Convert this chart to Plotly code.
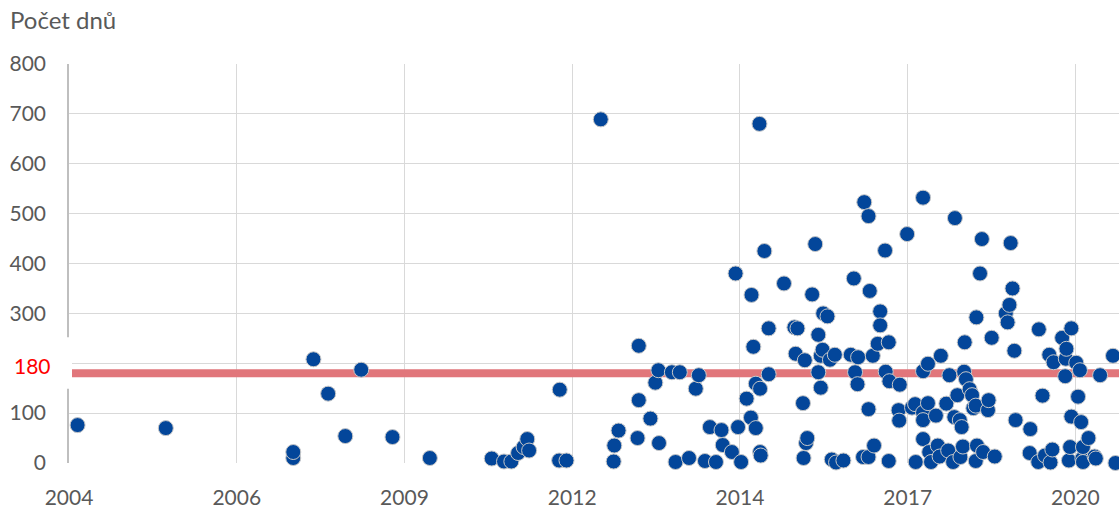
import plotly.graph_objects as go

# Event dates (decimal years) and duration in days
years = [
    2004.14, 2005.58, 2007.66, 2007.66, 2007.99, 2008.23, 2008.51, 2008.77, 2009.28, 2009.89,
    2010.90, 2011.10, 2011.22, 2011.33, 2011.42, 2011.48, 2011.51, 2012.01, 2012.00, 2012.12,
    2012.68, 2012.89, 2012.90, 2012.97, 2013.28, 2013.30, 2013.30, 2013.49, 2013.57, 2013.62,
    2013.63, 2013.84, 2013.90, 2013.97, 2014.12, 2014.23, 2014.28, 2014.38, 2014.46, 2014.56,
    2014.65, 2014.67, 2014.82, 2014.88, 2014.92, 2014.97, 2015.06, 2015.13, 2015.14, 2015.17,
    2015.21, 2015.21, 2015.27, 2015.28, 2015.28, 2015.29, 2015.35, 2015.42, 2015.42, 2015.67,
    2015.84, 2015.89, 2015.86, 2015.98, 2015.99, 2016.01, 2016.03, 2016.05, 2016.13, 2016.18,
    2016.23, 2016.23, 2016.27, 2016.27, 2016.30, 2016.31, 2016.38, 2016.42, 2016.45, 2016.50,
    2016.52, 2016.64, 2016.76, 2016.81, 2016.83, 2016.87, 2016.88, 2016.96, 2016.98, 2017.05,
    2017.05, 2017.05, 2017.07, 2017.12, 2017.14, 2017.20, 2017.24, 2017.24, 2017.32, 2017.33,
    2017.38, 2017.39, 2017.38, 2017.54, 2017.55, 2017.56, 2017.68, 2017.76, 2017.81, 2017.82,
    2017.94, 2017.94, 2017.94, 2017.94, 2017.94, 2018.02, 2018.02, 2018.04, 2018.07, 2018.15,
    2018.18, 2018.21, 2018.23, 2018.32, 2018.35, 2018.37, 2018.43, 2018.45, 2018.46, 2018.50,
    2018.54, 2018.55, 2018.57, 2018.59, 2018.61, 2018.62, 2018.64, 2018.70, 2018.74, 2018.76,
    2018.80, 2018.80, 2018.81, 2018.82, 2018.87, 2018.90, 2018.92, 2019.00, 2019.01, 2019.06,
    2019.11, 2019.29, 2019.32, 2019.35, 2019.37, 2019.40, 2019.43, 2019.45, 2019.68, 2019.69,
    2019.82, 2019.83, 2019.89, 2019.93, 2020.00, 2020.02, 2020.05, 2020.07, 2020.21, 2020.26,
    2020.27, 2020.28, 2020.32, 2020.34, 2020.36, 2020.36, 2020.44, 2020.47, 2020.50, 2020.52,
    2020.54, 2020.55, 2020.55, 2020.64, 2020.74, 2020.76, 2020.83, 2021.04, 2021.08,
]
days = [
    76, 70, 10, 22, 208, 139, 54, 187, 52, 10,
    9, 3, 3, 20, 32, 48, 25, 147, 5, 5,
    689, 3, 35, 65, 50, 235, 126, 89, 161, 186,
    40, 182, 2, 182, 10, 149, 176, 4, 72, 2,
    66, 36, 22, 380, 72, 2, 129, 91, 337, 233,
    159, 70, 680, 149, 22, 15, 425, 178, 270, 360,
    272, 270, 219, 120, 10, 206, 40, 50, 338, 439,
    257, 182, 151, 215, 227, 300, 294, 207, 7, 217,
    1, 5, 217, 370, 182, 158, 212, 12, 523, 495,
    108, 12, 345, 215, 35, 239, 304, 276, 426, 183,
    242, 164, 4, 106, 85, 157, 459, 111, 118, 2,
    532, 184, 101, 86, 48, 199, 120, 22, 2, 95,
    35, 13, 215, 119, 25, 176, 2, 92, 491, 136,
    86, 12, 72, 33, 183, 242, 168, 148, 136, 110,
    115, 4, 292, 35, 380, 449, 22, 106, 126, 251,
    13, 300, 282, 317, 441, 350, 225, 86, 20, 68,
    2, 268, 135, 15, 217, 1, 27, 202, 251, 174,
    209, 229, 5, 32, 270, 93, 201, 133, 186, 82,
    9, 32, 2, 50, 13, 9, 176, 215, 0,
]

threshold = 180
y_tick_values = [0, 100, 200, 300, 400, 500, 600, 700, 800]
y_tick_labels = ["0", "100", "", "300", "400", "500", "600", "700", "800"]
x_tick_labels = ["2004", "2006", "2009", "2012", "2014", "2017", "2020"]

start_year = 2004.0
step_years = 1000 / 365.25
x_tick_values = [start_year + i * step_years for i in range(len(x_tick_labels))]

W, H = 1119, 509
ML, MR, MT, MB = 69, 0, 64, 43
plot_w = W - ML - MR
x_max = start_year + plot_w * 0.016322

grey = "#595959"
font_family = "Lato, 'Open Sans', sans-serif"

fig = go.Figure()

fig.add_trace(go.Scatter(
    x=[start_year, x_max + 1], y=[threshold, threshold],
    mode="lines", line=dict(color="#e1767b", width=8),
    hoverinfo="skip", showlegend=False,
))

fig.add_trace(go.Scatter(
    x=years, y=days, mode="markers",
    marker=dict(size=15, color="#03469a", line=dict(color="#c8c8c8", width=1)),
    cliponaxis=False, showlegend=False,
))

fig.add_shape(
    type="rect", xref="paper", yref="y",
    x0=-ML / plot_w, x1=3 / plot_w, y0=149, y1=252,
    fillcolor="white", line=dict(width=0), layer="above",
)

fig.add_annotation(
    xref="paper", yref="y", x=-16 / plot_w, y=threshold, yshift=8,
    text="180", showarrow=False, xanchor="right", yanchor="middle",
    font=dict(family=font_family, size=21, color="#ff0000"),
)

fig.update_layout(
    width=W, height=H,
    margin=dict(l=ML, r=MR, t=MT, b=MB),
    paper_bgcolor="white", plot_bgcolor="white",
    title=dict(
        text="Počet dnů", x=10 / W, xanchor="left", xref="container",
        y=1 - 21 / H, yanchor="middle", yref="container",
        font=dict(family=font_family, size=24, color=grey),
    ),
    showlegend=False,
)

fig.update_xaxes(
    range=[start_year, x_max], tickmode="array",
    tickvals=x_tick_values, ticktext=x_tick_labels,
    showgrid=True, gridcolor="#d9d9d9", gridwidth=1.4,
    zeroline=False, showline=False,
    ticks="outside", ticklen=16, tickcolor="rgba(0,0,0,0)",
    tickfont=dict(family=font_family, size=21, color=grey),
)
fig.update_yaxes(
    range=[0, 800], tickmode="array",
    tickvals=y_tick_values, ticktext=y_tick_labels,
    showgrid=True, gridcolor="#d9d9d9", gridwidth=1.4,
    zeroline=False, showline=True, linecolor="#bfbfbf", linewidth=1.5,
    ticks="outside", ticklen=17, tickcolor="rgba(0,0,0,0)",
    tickfont=dict(family=font_family, size=21, color=grey),
)

fig.write_html(
    "out.html",
    config={"displayModeBar": False},
    post_script="document.body.style.margin='0px';document.body.style.overflow='hidden';",
)
